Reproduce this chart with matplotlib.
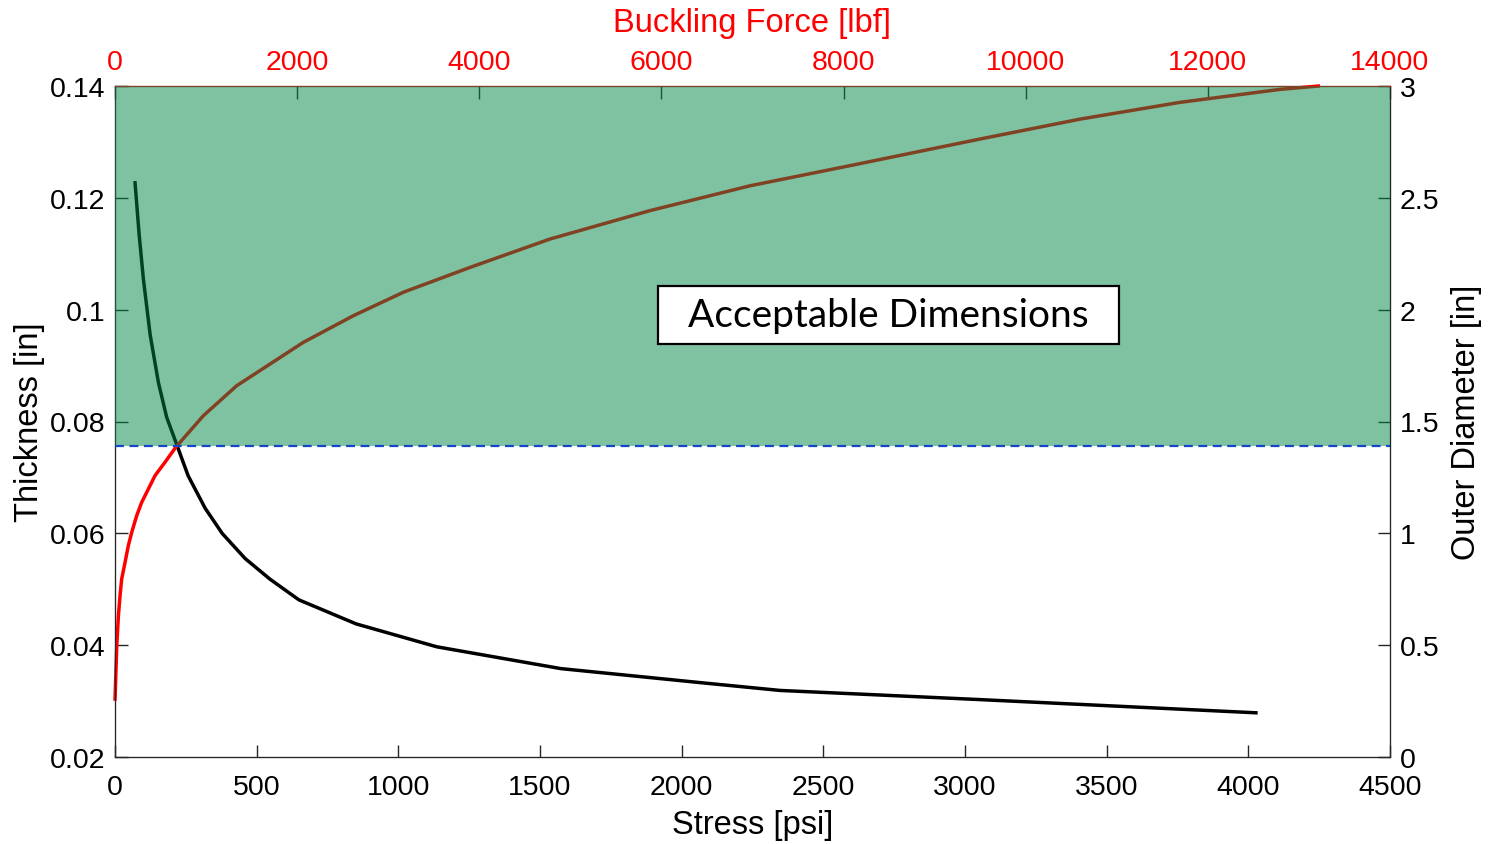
import matplotlib
matplotlib.use("Agg")
import matplotlib.pyplot as plt
from matplotlib.patches import Rectangle

plt.rcParams['font.family'] = ['Liberation Sans', 'DejaVu Sans']

# ---------- data ----------
stress = [70.6, 85, 100, 124, 153, 182, 219, 258, 318, 378, 459, 547, 649,
          851, 1136, 1574, 2065, 2347, 3036, 4027]
thickness = [0.1227, 0.1135, 0.1055, 0.0955, 0.0870, 0.0808, 0.0757, 0.0703,
             0.0645, 0.0600, 0.0555, 0.0518, 0.0481, 0.0438, 0.0397, 0.0358,
             0.0333, 0.0319, 0.0303, 0.0279]

force = [0, 19, 37, 55, 73, 110, 146, 183, 238, 293, 366, 439, 549, 667, 970,
         1336, 1702, 2068, 2617, 3166, 3898, 4777, 5875, 6973, 8071, 9498,
         10596, 11694, 12792, 13213]
outer_diameter = [0.259, 0.498, 0.632, 0.721, 0.796, 0.870, 0.945, 1.004,
                  1.079, 1.139, 1.198, 1.258, 1.318, 1.385, 1.526, 1.660,
                  1.757, 1.854, 1.973, 2.078, 2.189, 2.316, 2.443, 2.554,
                  2.644, 2.763, 2.852, 2.927, 2.985, 3.0]

limit_thickness = 0.0757
stress_ticks = list(range(0, 4501, 500))
thick_ticks = [0.02, 0.04, 0.06, 0.08, 0.10, 0.12, 0.14]
thick_labels = ["0.02", "0.04", "0.06", "0.08", "0.1", "0.12", "0.14"]
od_ticks = [0, 0.5, 1, 1.5, 2, 2.5, 3]
od_labels = ["0", "0.5", "1", "1.5", "2", "2.5", "3"]
force_ticks = list(range(0, 14001, 2000))

axis_gray = "#262626"
red = "#ff0000"
tick_size = 20.5
label_size = 23.5

fig = plt.figure(figsize=(14.92, 8.45), dpi=100)
pos = [0.0771, 0.103, 0.8545, 0.794]

# ---------- stress / thickness ----------
ax = fig.add_axes(pos)
ax.plot(stress, thickness, color="black", lw=2.5)
ax.set_xlim(0, 4500)
ax.set_ylim(0.02, 0.14)
ax.set_xticks(stress_ticks)
ax.set_yticks(thick_ticks)
ax.set_yticklabels(thick_labels)
ax.tick_params(direction="in", length=9, width=1, color=axis_gray,
               labelcolor="black", labelsize=tick_size)
ax.tick_params(axis="x", pad=12)
ax.tick_params(axis="y", pad=7)
ax.set_xlabel("Stress [psi]", fontsize=label_size)
ax.set_ylabel("Thickness [in]", fontsize=label_size)
ax.xaxis.set_label_coords(0.5, -0.077)
ax.yaxis.set_label_coords(-0.055, 0.5)
for s in ax.spines.values():
    s.set_color(axis_gray)

# ---------- outer diameter (right) ----------
ax2 = ax.twinx()
ax2.set_ylim(0, 3)
ax2.set_yticks(od_ticks)
ax2.set_yticklabels(od_labels)
ax2.tick_params(direction="in", length=9, width=1, color=axis_gray,
                labelcolor="black", labelsize=tick_size, pad=7)
ax2.set_ylabel("Outer Diameter [in]", fontsize=label_size)
ax2.yaxis.set_label_coords(1.048, 0.5)

# ---------- buckling force (top) ----------
ax3 = ax2.twiny()
ax3.plot(force, outer_diameter, color=red, lw=2.5, clip_on=False)
ax3.set_xlim(0, 14000)
ax3.set_xticks(force_ticks)
ax3.tick_params(direction="in", length=9, width=1, color=axis_gray,
                labelcolor=red, labelsize=tick_size, pad=8)
ax3.set_xlabel("Buckling Force [lbf]", fontsize=label_size, color=red)
ax3.xaxis.set_label_coords(0.5, 1.082)
for name, s in ax3.spines.items():
    s.set_color(red if name == "top" else axis_gray)

# ---------- acceptable region overlay ----------
ax4 = fig.add_axes(pos)
ax4.set_xlim(0, 4500)
ax4.set_ylim(0.02, 0.14)
ax4.axis("off")
ax4.axhspan(limit_thickness, 0.14, color=(0.004, 0.53, 0.28), alpha=0.5, lw=0)
ax4.axhline(limit_thickness, color="#1446c8", lw=1.6, dashes=(4, 2.5))
ax4.add_patch(Rectangle((0.4259, 0.6155), 0.3616, 0.0864,
                        transform=ax4.transAxes, facecolor="white",
                        edgecolor="black", lw=1.6))
ax4.text(0.6067, 0.6587, "Acceptable Dimensions", transform=ax4.transAxes,
         ha="center", va="center", fontsize=28, family=["Lato", "DejaVu Sans"])

fig.savefig("out.png", dpi=100)
